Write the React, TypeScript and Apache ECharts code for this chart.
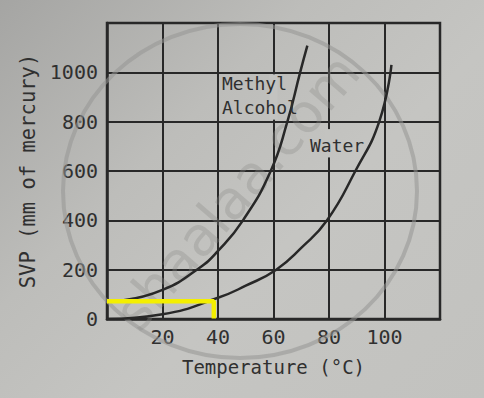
import React, { useEffect, useRef } from "react";
import * as echarts from "echarts";

const xTicks = [0, 20, 40, 60, 80, 100, 120];
const yTicks = [0, 200, 400, 600, 800, 1000, 1200];

const methylTemp = [6, 20, 33, 40, 49, 59, 65, 69.6, 72.2];
const methylSVP = [76, 118, 205, 276, 400, 600, 800, 1000, 1108];

const waterTemp = [0, 20, 40, 50, 61, 70, 79.3, 89.5, 98.1, 102.5];
const waterSVP = [0, 19, 86, 135, 200, 288, 400, 600, 800, 1030];

const markerTemp = [0, 38.5, 38.5];
const markerSVP = [72, 72, 2];

const FONT = "DejaVu Sans Mono";
const INK = "#282828";
const TXT = "#303030";
const BG = "#c3c3c0";

export default function App() {
  const ref = useRef<HTMLDivElement>(null);
  useEffect(() => {
    if (!ref.current) return;
    const chart = echarts.init(ref.current, null, { renderer: "svg" });
    const option: any = {
      animation: false,
      backgroundColor: "transparent",
      grid: {
        left: 107,
        right: 44,
        top: 23,
        bottom: 79,
        show: true,
        borderColor: INK,
        borderWidth: 2.5,
        backgroundColor: "transparent",
      },
      xAxis: {
        type: "value",
        min: xTicks[0],
        max: xTicks[xTicks.length - 1],
        interval: 20,
        name: "Temperature (°C)",
        nameLocation: "middle",
        nameGap: 38,
        nameTextStyle: { fontFamily: FONT, fontSize: 19, color: TXT },
        axisLine: { show: true, lineStyle: { color: INK, width: 2.5 } },
        axisTick: { show: false },
        axisLabel: {
          fontFamily: FONT,
          fontSize: 20,
          color: TXT,
          margin: 8,
          formatter: (v: number) => (v > 0 && v < 120 ? String(v) : ""),
        },
        splitLine: { show: true, lineStyle: { color: INK, width: 2 } },
      },
      yAxis: {
        type: "value",
        min: yTicks[0],
        max: yTicks[yTicks.length - 1],
        interval: 200,
        name: "SVP (mm of mercury)",
        nameLocation: "middle",
        nameGap: 66,
        nameTextStyle: { fontFamily: FONT, fontSize: 20.5, color: TXT },
        axisLine: { show: true, lineStyle: { color: INK, width: 2.5 } },
        axisTick: { show: false },
        axisLabel: {
          fontFamily: FONT,
          fontSize: 20,
          color: TXT,
          margin: 9,
          formatter: (v: number) => (v <= 1000 ? String(v) : ""),
        },
        splitLine: { show: true, lineStyle: { color: INK, width: 2 } },
      },
      series: [
        {
          name: "Methyl Alcohol",
          type: "line",
          smooth: 0.5,
          showSymbol: false,
          z: 4,
          lineStyle: { color: INK, width: 2.5 },
          data: methylTemp.map((t, i) => [t, methylSVP[i]]),
        },
        {
          name: "Water",
          type: "line",
          smooth: 0.5,
          showSymbol: false,
          z: 4,
          lineStyle: { color: INK, width: 2.5 },
          data: waterTemp.map((t, i) => [t, waterSVP[i]]),
        },
        {
          name: "marker",
          type: "line",
          showSymbol: false,
          z: 5,
          lineStyle: { color: "#f4ef00", width: 4.5 },
          data: markerTemp.map((t, i) => [t, markerSVP[i]]),
        },
      ],
    };
    chart.setOption(option);

    const p = (x: number, y: number) =>
      chart.convertToPixel({ gridIndex: 0 }, [x, y]) as number[];
    const g1a = p(60, 1000);
    const g1b = p(60, 800);
    const g2a = p(80, 770);
    const g2b = p(80, 655);

    chart.setOption({
      graphic: [
        {
          type: "ellipse",
          z: 1,
          silent: true,
          shape: { cx: 240, cy: 191, rx: 177, ry: 167 },
          style: { fill: "none", stroke: "rgba(150,150,148,0.55)", lineWidth: 4 },
        },
        {
          type: "text",
          z: 1,
          silent: true,
          x: 237,
          y: 192,
          rotation: 0.86,
          style: {
            text: "shaalaa.com",
            fontFamily: "DejaVu Sans",
            fontSize: 54,
            fill: "rgba(140,140,138,0.33)",
            align: "center",
            verticalAlign: "middle",
          },
        },
        {
          type: "rect",
          z: 2,
          silent: true,
          shape: { x: g1a[0] - 4, y: g1a[1] + 2, width: 8, height: g1b[1] - g1a[1] - 4 },
          style: { fill: BG },
        },
        {
          type: "rect",
          z: 2,
          silent: true,
          shape: { x: g2a[0] - 4, y: g2a[1], width: 8, height: g2b[1] - g2a[1] },
          style: { fill: BG },
        },
        {
          type: "text",
          z: 6,
          x: 222,
          y: 83,
          style: { text: "Methyl", fontFamily: FONT, fontSize: 18, fill: TXT, verticalAlign: "middle" },
        },
        {
          type: "text",
          z: 6,
          x: 222,
          y: 107,
          style: { text: "Alcohol", fontFamily: FONT, fontSize: 18, fill: TXT, verticalAlign: "middle" },
        },
        {
          type: "text",
          z: 6,
          x: 310,
          y: 145,
          style: { text: "Water", fontFamily: FONT, fontSize: 18, fill: TXT, verticalAlign: "middle" },
        },
      ],
    });

    return () => chart.dispose();
  }, []);

  return (
    <div
      ref={ref}
      style={{
        position: "fixed",
        left: 0,
        top: 0,
        width: 484,
        height: 398,
        background: "linear-gradient(135deg, #a5a5a3 0%, #bdbdba 35%, #c5c5c2 60%, #c2c2bf 100%)",
      }}
    />
  );
}
